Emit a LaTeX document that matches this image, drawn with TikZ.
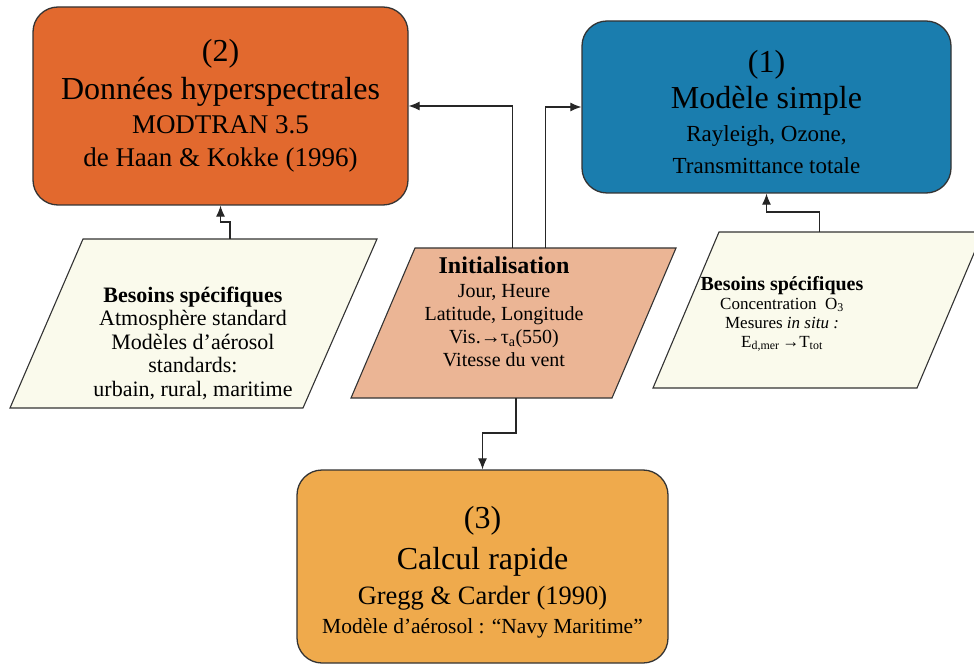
\documentclass[tikz,border=0pt]{standalone}
\usepackage{fontspec}
\setmainfont{Liberation Serif}
\usetikzlibrary{arrows.meta}

\definecolor{rouille}{HTML}{E2692E}
\definecolor{ocean}{HTML}{1A7DAE}
\definecolor{ambre}{HTML}{EFAA4C}
\definecolor{saumon}{HTML}{EBB595}
\definecolor{creme}{HTML}{FAFAEC}

\begin{document}
\begin{tikzpicture}[x=1pt,y=-1pt]
\tikzstyle{boite}=[rectangle,rounded corners=25pt,draw=black!80,line width=1.3pt,inner sep=0pt,align=center]
\tikzstyle{entree}=[draw=black!80,line width=1.1pt,line join=miter]
\tikzstyle{texte}=[align=center,inner sep=0pt]
\tikzstyle{fleche}=[-{Latex[length=11pt,width=9pt]},line width=1.1pt,black!85]
\useasboundingbox (0,0) rectangle (974,668);
% boites principales
\node [boite,fill=rouille,minimum width=375pt,minimum height=198pt,font=\fontsize{27}{33.5}\selectfont] (donnees) at (220.5,106)
 {{\fontsize{32}{36}\selectfont (2)}\\[4.5pt]{\fontsize{32}{36}\selectfont Données hyperspectrales}\\MODTRAN 3.5\\de Haan \& Kokke (1996)};
\node [boite,fill=ocean,minimum width=369pt,minimum height=172pt,font=\fontsize{23}{32.5}\selectfont] (simple) at (766.5,107)
 {{\fontsize{32}{36}\selectfont\rule{0pt}{33pt}(1)}\\[3.5pt]{\fontsize{32}{36}\selectfont Modèle simple}\\Rayleigh, Ozone,\\Transmittance totale};
\node [boite,fill=ambre,minimum width=371pt,minimum height=193pt,font=\fontsize{26.5}{29}\selectfont] (rapide) at (482.5,566.5)
 {{\fontsize{32}{36}\selectfont\rule{0pt}{33pt}(3)}\\[11pt]{\fontsize{32}{36}\selectfont Calcul rapide}\\[6pt]Gregg \& Carder (1990)\\{\fontsize{21.5}{24}\selectfont Modèle d’aérosol : “Navy Maritime”}};
% entrees (parallelogrammes)
\draw [entree,fill=creme] (10,408) -- (83,239) -- coordinate (besoinsG) (377,239) -- (303,408) -- cycle;
\draw [entree,fill=saumon] (612,398) -- coordinate[pos=0.368] (initB) (351,398) -- (415,248)
 -- coordinate[pos=0.375] (initG) coordinate[pos=0.5] (initD) (676,248) -- cycle;
\draw [entree,fill=creme] (653,388) -- (719,232) -- coordinate[pos=0.379] (besoinsD) (983,232) -- (917,388) -- cycle;
\node [texte,font=\fontsize{22}{23.5}\selectfont] (txtG) at (193,343)
 {{\bfseries Besoins spécifiques}\\Atmosphère standard\\Modèles d’aérosol\\standards:\\urbain, rural, maritime};
\node [texte,font=\fontsize{20}{23}\selectfont] (txtI) at (504,312)
 {{\bfseries\fontsize{24}{28}\selectfont Initialisation}\\[1pt]Jour, Heure\\Latitude, Longitude\\Vis.→τ\textsubscript{a}(550)\\Vitesse du vent};
\node [texte,font=\fontsize{17}{19}\selectfont] (txtD) at (782,314)
 {{\bfseries\fontsize{20}{22}\selectfont Besoins spécifiques}\\Concentration\ \ O\textsubscript{3}\\Mesures \textit{in situ :}\\E\textsubscript{d,mer}\,→T\textsubscript{tot}};
% liaisons
\draw [fleche] (besoinsG) -- ++(0,-17) -| (donnees.south);
\draw [fleche] (initG) |- (donnees.east);
\draw [fleche] (initD) |- (simple.west);
\draw [fleche] (initB) -- ++(0,35) -| (rapide.north);
\draw [fleche] (besoinsD) -- ++(0,-20) -| (simple.south);
\end{tikzpicture}
\end{document}
